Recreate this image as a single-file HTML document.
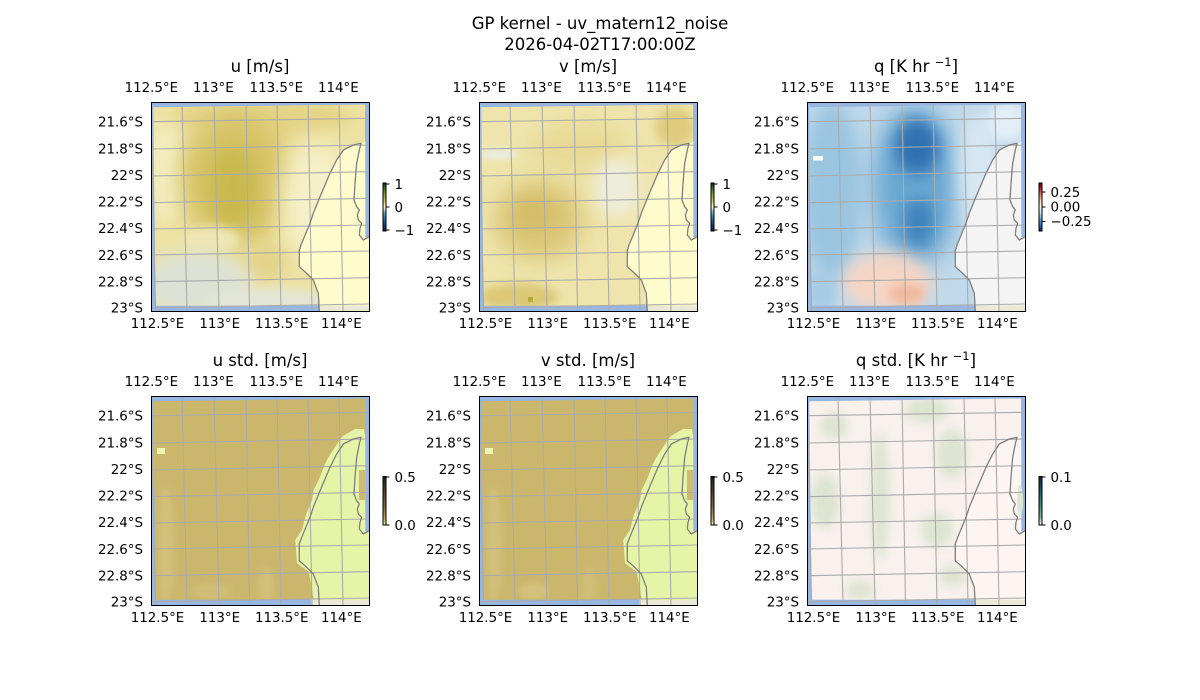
<!DOCTYPE html>
<html><head><meta charset="utf-8"><style>
html,body{margin:0;padding:0;background:#fff;width:1200px;height:700px;overflow:hidden}
svg{display:block}
text{font-family:"DejaVu Sans","Liberation Sans",sans-serif;fill:#000}
.t{font-size:16.5px;text-anchor:middle}
.k{font-size:13.4px}
.m{text-anchor:middle}
.e{text-anchor:end}
</style></head><body>
<svg width="1200" height="700" viewBox="0 0 1200 700" xmlns="http://www.w3.org/2000/svg">
<defs>
<clipPath id="box"><rect x="0" y="0" width="218" height="209"/></clipPath>
<clipPath id="dq"><path d="M2.3,5.3 L214,2.5 L214.3,203.5 L4.7,203.8 Z"/></clipPath>
<filter id="f3" x="-50%" y="-50%" width="200%" height="200%"><feGaussianBlur stdDeviation="3"/></filter>
<filter id="f5" x="-50%" y="-50%" width="200%" height="200%"><feGaussianBlur stdDeviation="5"/></filter>
<filter id="f8" x="-50%" y="-50%" width="200%" height="200%"><feGaussianBlur stdDeviation="8"/></filter>
<filter id="f12" x="-50%" y="-50%" width="200%" height="200%"><feGaussianBlur stdDeviation="12"/></filter>
<linearGradient id="gdelta" x1="0" y1="1" x2="0" y2="0">
<stop offset="0" stop-color="#112040"/><stop offset="0.12" stop-color="#1c3a80"/><stop offset="0.25" stop-color="#2a6ea2"/><stop offset="0.38" stop-color="#5fb0b8"/><stop offset="0.5" stop-color="#fffdcd"/><stop offset="0.62" stop-color="#cfc36a"/><stop offset="0.75" stop-color="#8ea635"/><stop offset="0.88" stop-color="#3d7a27"/><stop offset="1" stop-color="#172313"/>
</linearGradient>
<linearGradient id="grdbu" x1="0" y1="1" x2="0" y2="0">
<stop offset="0" stop-color="#053061"/><stop offset="0.1" stop-color="#2166ac"/><stop offset="0.2" stop-color="#4393c3"/><stop offset="0.3" stop-color="#92c5de"/><stop offset="0.4" stop-color="#d1e5f0"/><stop offset="0.5" stop-color="#f7f7f7"/><stop offset="0.6" stop-color="#fddbc7"/><stop offset="0.7" stop-color="#f4a582"/><stop offset="0.8" stop-color="#d6604d"/><stop offset="0.9" stop-color="#b2182b"/><stop offset="1" stop-color="#67001f"/>
</linearGradient>
<linearGradient id="gturbid" x1="0" y1="1" x2="0" y2="0">
<stop offset="0" stop-color="#e9f6ab"/><stop offset="0.1" stop-color="#c9b06a"/><stop offset="0.35" stop-color="#8a6e48"/><stop offset="0.65" stop-color="#5a4332"/><stop offset="1" stop-color="#221e1b"/>
</linearGradient>
<linearGradient id="gtempo" x1="0" y1="1" x2="0" y2="0">
<stop offset="0" stop-color="#fff6f4"/><stop offset="0.15" stop-color="#86bb9a"/><stop offset="0.4" stop-color="#3d9580"/><stop offset="0.7" stop-color="#1a6469"/><stop offset="1" stop-color="#151d44"/>
</linearGradient>
<path id="coast" d="M168.3,209 L167.3,191.3 L162.3,178 L154,169.7 L148.3,164.7 L148.3,148 L150.7,141.3 L159,121.3 L162.3,111.3 L169,94.7 L179,71.3 L185.7,58 L192.3,48 L202.3,43 L210,41.3 L208.3,48 L205.7,61.3 L204,81.3 L203,98 L205.7,104.7 L208.3,108 L206.3,113 L207.3,118 L210.7,121.3 L209,126.3 L208.3,133 L212.3,138 L218,134.7" fill="none" stroke="#7f7f7f" stroke-width="1.3" stroke-linejoin="round"/>
<path id="pale" d="M168.3,203.6 L167.3,191.3 L162.3,178 L154,169.7 L148.3,164.7 L148.3,148 L150.7,141.3 L159,121.3 L162.3,111.3 L169,94.7 L179,71.3 L185.7,58 L192.3,48 L202.3,43 L210,41.3 L214.3,40 L214.3,135 L218,135 L218,203.6 Z"/>
<path id="palestd" d="M162.7,203.6 L161,194 L157.7,175.7 L146,167.3 L144.3,144 L151,134 L154.3,120.7 L161,104 L162.7,94 L167.7,84 L172.7,70.7 L177.7,60.7 L184.3,50.7 L191,40.7 L197,37 L204.3,33 L212.7,33 L214.3,40 L214.3,135 L218,135 L218,203.6 Z"/>
<g id="grid" fill="none" stroke="#ababab" stroke-width="1.1">
<path d="M-0.3,0 L4.7,209 M31,0 L36,209 M63,0 L68,209 M95,0 L98.5,209 M126,0 L130,209 M157,0 L161,209 M188,0 L192,209"/>
<path d="M0,19.7 L218,16.3 M0,47 L218,43 M0,74 L218,69.7 M0,100.7 L218,96.3 M0,127 L218,123 M0,153 L218,149 M0,179.7 L218,175.7 M0,205.7 L218,202"/>
</g>
</defs>

<text class="t" x="600" y="29">GP kernel - uv_matern12_noise</text>
<text class="t" x="600" y="50">2026-04-02T17:00:00Z</text>

<!-- ============ PANEL 1: u ============ -->
<g transform="translate(151,102)">
<g clip-path="url(#box)">
<rect x="0" y="0" width="218" height="209" fill="#97b6e1"/>
<rect x="168" y="203.5" width="50" height="6" fill="#e9e9d5"/>
<g clip-path="url(#dq)">
<rect x="0" y="0" width="218" height="209" fill="#ede2a3"/>
<ellipse cx="110" cy="15" rx="90" ry="20" fill="#e4d486" filter="url(#f8)"/>
<ellipse cx="15" cy="70" rx="18" ry="50" fill="#f3edc0" filter="url(#f8)"/>
<ellipse cx="85" cy="78" rx="55" ry="68" fill="#d6c365" filter="url(#f12)"/>
<ellipse cx="82" cy="85" rx="24" ry="40" fill="#c9b94e" filter="url(#f8)"/>
<ellipse cx="165" cy="100" rx="35" ry="60" fill="#f5f0c8" filter="url(#f12)"/>
<ellipse cx="60" cy="138" rx="30" ry="14" fill="#efe6b4" filter="url(#f5)"/>
<ellipse cx="115" cy="160" rx="22" ry="18" fill="#e3d38a" filter="url(#f8)"/>
<ellipse cx="45" cy="182" rx="55" ry="33" fill="#dde2d4" filter="url(#f8)"/>
<ellipse cx="115" cy="198" rx="60" ry="12" fill="#e3e6d6" filter="url(#f5)"/>
</g>
<use href="#pale" fill="#fefccc"/>
<use href="#grid"/>
<use href="#coast"/>
</g>
<rect x="0.5" y="0.5" width="218" height="209" fill="none" stroke="#000" stroke-width="1"/>
<text class="t" x="109" y="-30">u [m/s]</text>
<g class="k">
<text class="k m" x="0.3" y="-10">112.5°E</text><text class="k m" x="62.3" y="-10">113°E</text><text class="k m" x="125.3" y="-10">113.5°E</text><text class="k m" x="187.3" y="-10">114°E</text>
<text class="k m" x="6.5" y="226">112.5°E</text><text class="k m" x="68.7" y="226">113°E</text><text class="k m" x="130.7" y="226">113.5°E</text><text class="k m" x="190.3" y="226">114°E</text>
<text class="k e" x="-8" y="24.4">21.6°S</text><text class="k e" x="-8" y="51.4">21.8°S</text><text class="k e" x="-8" y="77.9">22°S</text><text class="k e" x="-8" y="104.4">22.2°S</text><text class="k e" x="-8" y="130.9">22.4°S</text><text class="k e" x="-8" y="157.9">22.6°S</text><text class="k e" x="-8" y="184.4">22.8°S</text><text class="k e" x="-8" y="210.4">23°S</text>
</g>
<rect x="232" y="81" width="3" height="48" fill="url(#gdelta)" stroke="#000" stroke-width="1"/>
<path d="M235,82 h3.5 M235,105 h3.5 M235,128 h3.5" stroke="#000" stroke-width="1"/>
<text class="k" x="243.5" y="87">1</text><text class="k" x="243.5" y="110">0</text><text class="k" x="243.5" y="133">−1</text>
</g>

<!-- ============ PANEL 2: v ============ -->
<g transform="translate(479,102)">
<g clip-path="url(#box)">
<rect x="0" y="0" width="218" height="209" fill="#97b6e1"/>
<rect x="168" y="203.5" width="50" height="6" fill="#e9e9d5"/>
<g clip-path="url(#dq)">
<rect x="0" y="0" width="218" height="209" fill="#efe5ac"/>
<ellipse cx="100" cy="45" rx="50" ry="25" fill="#e8d994" filter="url(#f12)"/>
<ellipse cx="60" cy="118" rx="45" ry="40" fill="#dac676" filter="url(#f12)"/>
<ellipse cx="55" cy="112" rx="20" ry="18" fill="#d4bd68" filter="url(#f8)"/>
<ellipse cx="138" cy="85" rx="22" ry="30" fill="#eeeddd" filter="url(#f8)"/>
<ellipse cx="20" cy="52" rx="18" ry="6" fill="#e9ecdc" filter="url(#f3)"/>
<ellipse cx="196" cy="25" rx="20" ry="20" fill="#dfcb7c" filter="url(#f5)"/>
<ellipse cx="40" cy="195" rx="40" ry="14" fill="#dcc874" filter="url(#f5)"/>
<rect x="49" y="195" width="5" height="5" fill="#b5ab3b"/>
</g>
<use href="#pale" fill="#fefccc"/>
<use href="#grid"/>
<use href="#coast"/>
</g>
<rect x="0.5" y="0.5" width="218" height="209" fill="none" stroke="#000" stroke-width="1"/>
<text class="t" x="109" y="-30">v [m/s]</text>
<g>
<text class="k m" x="0.3" y="-10">112.5°E</text><text class="k m" x="62.3" y="-10">113°E</text><text class="k m" x="125.3" y="-10">113.5°E</text><text class="k m" x="187.3" y="-10">114°E</text>
<text class="k m" x="6.5" y="226">112.5°E</text><text class="k m" x="68.7" y="226">113°E</text><text class="k m" x="130.7" y="226">113.5°E</text><text class="k m" x="190.3" y="226">114°E</text>
<text class="k e" x="-8" y="24.4">21.6°S</text><text class="k e" x="-8" y="51.4">21.8°S</text><text class="k e" x="-8" y="77.9">22°S</text><text class="k e" x="-8" y="104.4">22.2°S</text><text class="k e" x="-8" y="130.9">22.4°S</text><text class="k e" x="-8" y="157.9">22.6°S</text><text class="k e" x="-8" y="184.4">22.8°S</text><text class="k e" x="-8" y="210.4">23°S</text>
</g>
<rect x="232" y="81" width="3" height="48" fill="url(#gdelta)" stroke="#000" stroke-width="1"/>
<path d="M235,82 h3.5 M235,105 h3.5 M235,128 h3.5" stroke="#000" stroke-width="1"/>
<text class="k" x="243.5" y="87">1</text><text class="k" x="243.5" y="110">0</text><text class="k" x="243.5" y="133">−1</text>
</g>

<!-- ============ PANEL 3: q ============ -->
<g transform="translate(807,102)">
<g clip-path="url(#box)">
<rect x="0" y="0" width="218" height="209" fill="#97b6e1"/>
<rect x="168" y="203.5" width="50" height="6" fill="#e9e9d5"/>
<g clip-path="url(#dq)">
<rect x="0" y="0" width="218" height="209" fill="#c0d9eb"/>
<ellipse cx="25" cy="90" rx="30" ry="90" fill="#9ac5e0" filter="url(#f8)"/>
<ellipse cx="108" cy="85" rx="42" ry="80" fill="#6aa8d2" filter="url(#f12)"/>
<ellipse cx="110" cy="45" rx="22" ry="28" fill="#2f6fb1" filter="url(#f8)"/>
<ellipse cx="112" cy="120" rx="15" ry="25" fill="#3d82bd" filter="url(#f8)"/>
<ellipse cx="172" cy="70" rx="20" ry="60" fill="#d6e7f2" filter="url(#f8)"/>
<ellipse cx="200" cy="20" rx="20" ry="20" fill="#e3eef6" filter="url(#f5)"/>
<ellipse cx="80" cy="180" rx="45" ry="30" fill="#f5d5c4" filter="url(#f8)"/>
<ellipse cx="100" cy="192" rx="18" ry="10" fill="#f2b89c" filter="url(#f5)"/>
<ellipse cx="15" cy="190" rx="15" ry="20" fill="#a6cbe3" filter="url(#f5)"/>
<rect x="6" y="54" width="10" height="4.5" fill="#ffffff"/>
</g>
<use href="#pale" fill="#f4f4f4"/>
<use href="#grid"/>
<use href="#coast"/>
</g>
<rect x="0.5" y="0.5" width="218" height="209" fill="none" stroke="#000" stroke-width="1"/>
<text class="t" x="109" y="-30">q [K hr <tspan font-size="11.5" dy="-6">−1</tspan><tspan dy="6">]</tspan></text>
<g>
<text class="k m" x="0.3" y="-10">112.5°E</text><text class="k m" x="62.3" y="-10">113°E</text><text class="k m" x="125.3" y="-10">113.5°E</text><text class="k m" x="187.3" y="-10">114°E</text>
<text class="k m" x="6.5" y="226">112.5°E</text><text class="k m" x="68.7" y="226">113°E</text><text class="k m" x="130.7" y="226">113.5°E</text><text class="k m" x="190.3" y="226">114°E</text>
<text class="k e" x="-8" y="24.4">21.6°S</text><text class="k e" x="-8" y="51.4">21.8°S</text><text class="k e" x="-8" y="77.9">22°S</text><text class="k e" x="-8" y="104.4">22.2°S</text><text class="k e" x="-8" y="130.9">22.4°S</text><text class="k e" x="-8" y="157.9">22.6°S</text><text class="k e" x="-8" y="184.4">22.8°S</text><text class="k e" x="-8" y="210.4">23°S</text>
</g>
<rect x="232" y="81" width="3" height="48" fill="url(#grdbu)" stroke="#000" stroke-width="1"/>
<path d="M235,90 h3.5 M235,105 h3.5 M235,119.5 h3.5" stroke="#000" stroke-width="1"/>
<text class="k" x="243.5" y="94.8">0.25</text><text class="k" x="243.5" y="109.6">0.00</text><text class="k" x="243.5" y="124">−0.25</text>
</g>

<!-- ============ PANEL 4: u std ============ -->
<g transform="translate(151,396)">
<g clip-path="url(#box)">
<rect x="0" y="0" width="218" height="209" fill="#97b6e1"/>
<rect x="160" y="203.5" width="58" height="6" fill="#e9e9d5"/>
<g clip-path="url(#dq)">
<rect x="0" y="0" width="218" height="209" fill="#cab76b"/>
<ellipse cx="15" cy="150" rx="8" ry="60" fill="#d2c07a" filter="url(#f3)"/>
<ellipse cx="115" cy="190" rx="8" ry="18" fill="#d2c07a" filter="url(#f3)"/>
<ellipse cx="60" cy="195" rx="20" ry="8" fill="#d0be77" filter="url(#f3)"/>
<rect x="6" y="52" width="8" height="6" fill="#eef6b4"/>
</g>
<use href="#palestd" fill="#e6f4a8"/>
<rect x="208" y="74" width="6.3" height="30" fill="#cdb96f"/>
<use href="#grid"/>
<use href="#coast"/>
</g>
<rect x="0.5" y="0.5" width="218" height="209" fill="none" stroke="#000" stroke-width="1"/>
<text class="t" x="109" y="-30">u std. [m/s]</text>
<g>
<text class="k m" x="0.3" y="-10">112.5°E</text><text class="k m" x="62.3" y="-10">113°E</text><text class="k m" x="125.3" y="-10">113.5°E</text><text class="k m" x="187.3" y="-10">114°E</text>
<text class="k m" x="6.5" y="226">112.5°E</text><text class="k m" x="68.7" y="226">113°E</text><text class="k m" x="130.7" y="226">113.5°E</text><text class="k m" x="190.3" y="226">114°E</text>
<text class="k e" x="-8" y="24.4">21.6°S</text><text class="k e" x="-8" y="51.4">21.8°S</text><text class="k e" x="-8" y="77.9">22°S</text><text class="k e" x="-8" y="104.4">22.2°S</text><text class="k e" x="-8" y="130.9">22.4°S</text><text class="k e" x="-8" y="157.9">22.6°S</text><text class="k e" x="-8" y="184.4">22.8°S</text><text class="k e" x="-8" y="210.4">23°S</text>
</g>
<rect x="232" y="80.5" width="3" height="48.5" fill="url(#gturbid)" stroke="#000" stroke-width="1"/>
<path d="M235,81 h3.5 M235,129 h3.5" stroke="#000" stroke-width="1"/>
<text class="k" x="243.5" y="85.9">0.5</text><text class="k" x="243.5" y="133.9">0.0</text>
</g>

<!-- ============ PANEL 5: v std ============ -->
<g transform="translate(479,396)">
<g clip-path="url(#box)">
<rect x="0" y="0" width="218" height="209" fill="#97b6e1"/>
<rect x="160" y="203.5" width="58" height="6" fill="#e9e9d5"/>
<g clip-path="url(#dq)">
<rect x="0" y="0" width="218" height="209" fill="#cab76b"/>
<ellipse cx="15" cy="150" rx="8" ry="60" fill="#d2c07a" filter="url(#f3)"/>
<ellipse cx="55" cy="195" rx="15" ry="8" fill="#d4c27c" filter="url(#f3)"/>
<ellipse cx="110" cy="190" rx="8" ry="18" fill="#d0be77" filter="url(#f3)"/>
<rect x="6" y="52" width="8" height="6" fill="#eef6b4"/>
</g>
<use href="#palestd" fill="#e6f4a8"/>
<rect x="208" y="74" width="6.3" height="30" fill="#cdb96f"/>
<use href="#grid"/>
<use href="#coast"/>
</g>
<rect x="0.5" y="0.5" width="218" height="209" fill="none" stroke="#000" stroke-width="1"/>
<text class="t" x="109" y="-30">v std. [m/s]</text>
<g>
<text class="k m" x="0.3" y="-10">112.5°E</text><text class="k m" x="62.3" y="-10">113°E</text><text class="k m" x="125.3" y="-10">113.5°E</text><text class="k m" x="187.3" y="-10">114°E</text>
<text class="k m" x="6.5" y="226">112.5°E</text><text class="k m" x="68.7" y="226">113°E</text><text class="k m" x="130.7" y="226">113.5°E</text><text class="k m" x="190.3" y="226">114°E</text>
<text class="k e" x="-8" y="24.4">21.6°S</text><text class="k e" x="-8" y="51.4">21.8°S</text><text class="k e" x="-8" y="77.9">22°S</text><text class="k e" x="-8" y="104.4">22.2°S</text><text class="k e" x="-8" y="130.9">22.4°S</text><text class="k e" x="-8" y="157.9">22.6°S</text><text class="k e" x="-8" y="184.4">22.8°S</text><text class="k e" x="-8" y="210.4">23°S</text>
</g>
<rect x="232" y="80.5" width="3" height="48.5" fill="url(#gturbid)" stroke="#000" stroke-width="1"/>
<path d="M235,81 h3.5 M235,129 h3.5" stroke="#000" stroke-width="1"/>
<text class="k" x="243.5" y="85.9">0.5</text><text class="k" x="243.5" y="133.9">0.0</text>
</g>

<!-- ============ PANEL 6: q std ============ -->
<g transform="translate(807,396)">
<g clip-path="url(#box)">
<rect x="0" y="0" width="218" height="209" fill="#97b6e1"/>
<rect x="168" y="203.5" width="50" height="6" fill="#e9e9d5"/>
<g clip-path="url(#dq)">
<rect x="0" y="0" width="218" height="209" fill="#f8f1ed"/>
<g fill="#d9e2cd" opacity="0.9">
<ellipse cx="120" cy="14" rx="22" ry="13" filter="url(#f5)"/>
<ellipse cx="27" cy="30" rx="14" ry="13" filter="url(#f5)"/>
<ellipse cx="73" cy="100" rx="9" ry="65" filter="url(#f5)"/>
<ellipse cx="145" cy="58" rx="15" ry="25" filter="url(#f5)"/>
<ellipse cx="18" cy="105" rx="14" ry="28" filter="url(#f5)"/>
<ellipse cx="130" cy="134" rx="16" ry="17" filter="url(#f5)"/>
<ellipse cx="53" cy="194" rx="14" ry="10" filter="url(#f5)"/>
<ellipse cx="146" cy="180" rx="14" ry="10" filter="url(#f5)"/>
</g>
</g>
<use href="#pale" fill="#fdf5f2"/>
<ellipse cx="213" cy="105" rx="3" ry="16" fill="#dfe6d6"/>
<use href="#grid"/>
<use href="#coast"/>
</g>
<rect x="0.5" y="0.5" width="218" height="209" fill="none" stroke="#000" stroke-width="1"/>
<text class="t" x="109" y="-30">q std. [K hr <tspan font-size="11.5" dy="-6">−1</tspan><tspan dy="6">]</tspan></text>
<g>
<text class="k m" x="0.3" y="-10">112.5°E</text><text class="k m" x="62.3" y="-10">113°E</text><text class="k m" x="125.3" y="-10">113.5°E</text><text class="k m" x="187.3" y="-10">114°E</text>
<text class="k m" x="6.5" y="226">112.5°E</text><text class="k m" x="68.7" y="226">113°E</text><text class="k m" x="130.7" y="226">113.5°E</text><text class="k m" x="190.3" y="226">114°E</text>
<text class="k e" x="-8" y="24.4">21.6°S</text><text class="k e" x="-8" y="51.4">21.8°S</text><text class="k e" x="-8" y="77.9">22°S</text><text class="k e" x="-8" y="104.4">22.2°S</text><text class="k e" x="-8" y="130.9">22.4°S</text><text class="k e" x="-8" y="157.9">22.6°S</text><text class="k e" x="-8" y="184.4">22.8°S</text><text class="k e" x="-8" y="210.4">23°S</text>
</g>
<rect x="232" y="80.5" width="3" height="48.5" fill="url(#gtempo)" stroke="#000" stroke-width="1"/>
<path d="M235,81 h3.5 M235,129 h3.5" stroke="#000" stroke-width="1"/>
<text class="k" x="243.5" y="85.9">0.1</text><text class="k" x="243.5" y="133.9">0.0</text>
</g>
</svg>
</body></html>
